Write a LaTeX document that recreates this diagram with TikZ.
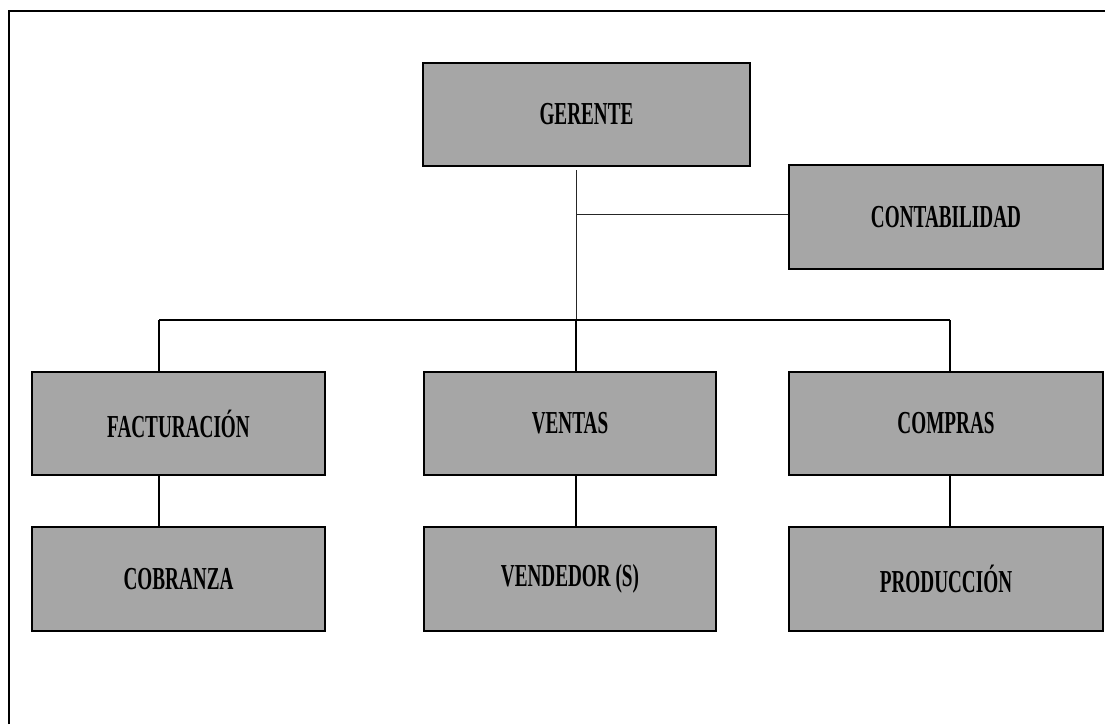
\documentclass[tikz,border=0pt]{standalone}
\usepackage{fontspec}
\usepackage{graphicx}
\setmainfont{Liberation Serif}
\newcommand{\narrowtxt}[1]{{\bfseries\fontsize{32}{34}\selectfont\scalebox{0.6}[1]{#1}}}
\definecolor{boxgray}{RGB}{166,166,166}
\tikzset{
  unit/.style={draw=black, fill=boxgray, line width=1.4pt, rectangle, inner sep=0pt},
  link/.style={line width=1.3pt, black},
  thinlink/.style={line width=0.9pt, black!85},
}
\begin{document}
\begin{tikzpicture}[x=1pt,y=-1pt]
\useasboundingbox (0,0) rectangle (1105,724);
% frame
\draw[line width=2pt] (8.5,724) -- (8.5,11) -- (1105,11);
% boxes
\node[unit, minimum width=327pt, minimum height=103pt] (G) at (586.5,114.5) {\narrowtxt{GERENTE}};
\node[unit, minimum width=314pt, minimum height=104pt] (C) at (946,217) {\narrowtxt{CONTABILIDAD}};
\node[unit, minimum width=293pt, minimum height=103pt] (F) at (178.5,423.5) {\narrowtxt{FACTURACIÓN}};
\node[unit, minimum width=292pt, minimum height=103pt] (V) at (570,423.5) {\narrowtxt{VENTAS}};
\node[unit, minimum width=314pt, minimum height=103pt] (P) at (946,423.5) {\narrowtxt{COMPRAS}};
\node[unit, minimum width=293pt, minimum height=104pt] (CO) at (178.5,579) {\narrowtxt{COBRANZA}};
\node[unit, minimum width=292pt, minimum height=104pt] (VE) at (570,579) {\narrowtxt{VENDEDOR (S)}};
\node[unit, minimum width=314pt, minimum height=104pt] (PR) at (946,579) {\narrowtxt{PRODUCCIÓN}};
% coordinates
\coordinate (gtop) at (576,170);
\coordinate (jn) at (576,214);
\coordinate (busL) at (159,320);
\coordinate (busM) at (576,320);
\coordinate (busR) at (950,320);
% connectors
\draw[thinlink] (gtop) -- (busM);
\draw[thinlink] (jn) -- (C.west |- jn);
\draw[link] (busL) -- (busR);
\draw[link] (busL) -- (busL |- F.north);
\draw[link] (busM) -- (busM |- V.north);
\draw[link] (busR) -- (busR |- P.north);
\draw[link] (busL |- F.south) -- (busL |- CO.north);
\draw[link] (busM |- V.south) -- (busM |- VE.north);
\draw[link] (busR |- P.south) -- (busR |- PR.north);
\end{tikzpicture}
\end{document}
